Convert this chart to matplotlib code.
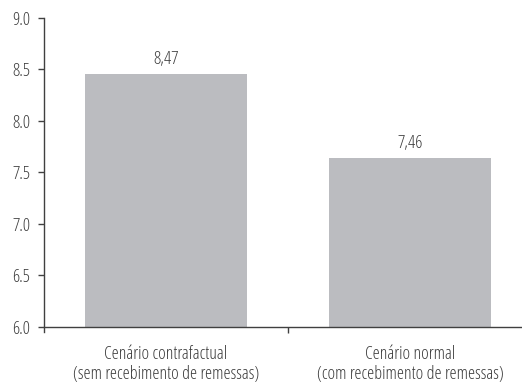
import numpy as np
import matplotlib.pyplot as plt

plt.rcParams["font.family"] = ["Open Sans", "DejaVu Sans"]
plt.rcParams["font.stretch"] = "condensed"
plt.rcParams["font.weight"] = "light"

categories = ["Cenário contrafactual\n(sem recebimento de remessas)",
              "Cenário normal\n(com recebimento de remessas)"]
bar_heights = [8.46, 7.64]
bar_labels = ["8,47", "7,46"]
y_ticks = [6.0, 6.5, 7.0, 7.5, 8.0, 8.5, 9.0]

text_color = "#3c3c3c"
axis_color = "#404040"

fig = plt.figure(figsize=(5.22, 3.85), dpi=100)
ax = fig.add_axes([44 / 522, 53 / 385, 488 / 522, 314 / 385])

x = np.array([0.5, 1.5])
ax.bar(x, np.array(bar_heights) - 6.0, bottom=6.0, width=0.664, color="#bbbcc0")

for xi, h, lab in zip(x, bar_heights, bar_labels):
    ax.text(xi, h + 0.055, lab, ha="center", va="bottom", fontsize=13, color=text_color)

ax.set_xlim(0, 2)
ax.set_ylim(5.95, 9.0)
ax.spines["bottom"].set_position(("data", 6.0))
ax.spines["top"].set_visible(False)
ax.spines["right"].set_visible(False)
for s in ("left", "bottom"):
    ax.spines[s].set_color(axis_color)
    ax.spines[s].set_linewidth(1.0)

ax.set_yticks(y_ticks)
ax.set_yticklabels([f"{t:.1f}" for t in y_ticks])
ax.tick_params(axis="y", length=4.3, width=1, color=axis_color, labelsize=13,
               labelcolor=text_color, pad=5.5)

ax.set_xticks(x)
ax.set_xticklabels(categories, linespacing=1.15)
ax.tick_params(axis="x", which="major", length=0, labelsize=13,
               labelcolor=text_color, pad=13)
ax.set_xticks([1.0], minor=True)
ax.tick_params(axis="x", which="minor", length=4.5, width=1, color=axis_color)

fig.savefig("out.png", dpi=100)
